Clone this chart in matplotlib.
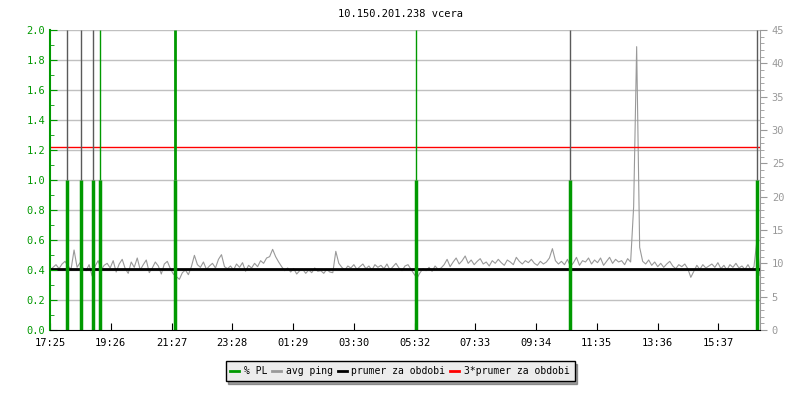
import numpy as np
import matplotlib.pyplot as plt
from matplotlib.ticker import MultipleLocator

plt.rcParams['font.family'] = ['DejaVu Sans Mono']

title = '10.150.201.238 vcera'

# avg ping [ms], one sample every 6 minutes from 17:25
ping = [
    9.0, 9.4, 9.8, 9.2, 9.9, 10.3, 9.6, 9.1, 12.0, 9.4,
    10.1, 9.3, 8.9, 9.8, 8.1, 9.6, 10.4, 9.0, 9.7, 10.0,
    9.3, 10.4, 8.7, 9.9, 10.6, 9.2, 8.5, 10.2, 9.4, 10.8,
    9.0, 9.8, 10.5, 8.6, 9.3, 10.2, 9.6, 8.4, 9.9, 10.3,
    9.2, 8.4, 8.0, 7.6, 8.6, 9.0, 8.3, 9.5, 11.2, 9.8,
    9.4, 10.2, 9.1, 9.6, 10.0, 9.3, 10.6, 11.3, 9.5, 9.2,
    9.6, 9.0, 9.9, 9.4, 10.1, 8.8, 9.7, 9.3, 10.0, 9.5,
    10.4, 10.0, 10.8, 11.0, 12.1, 11.0, 10.2, 9.5, 8.9, 9.3,
    8.7, 9.2, 8.4, 8.9, 9.1, 8.5, 9.0, 8.6, 9.3, 8.8,
    8.9, 8.5, 9.1, 8.7, 8.6, 11.8, 10.0, 9.4, 9.0, 9.6,
    9.3, 9.8, 9.1, 9.5, 9.9, 9.2, 9.6, 9.0, 9.8, 9.4,
    9.7, 9.2, 9.9, 9.0, 9.5, 10.0, 9.3, 8.9, 9.6, 9.8,
    9.1, 8.4, 7.8, 8.6, 9.2, 8.9, 9.4, 8.8, 9.6, 9.1,
    9.3, 9.8, 10.6, 9.5, 10.2, 10.8, 9.9, 10.4, 11.1, 10.0,
    10.5, 9.8, 10.3, 10.7, 9.9, 10.2, 9.6, 10.4, 10.0, 10.6,
    10.1, 9.7, 10.5, 10.2, 9.8, 10.9, 10.3, 9.9, 10.4, 10.1,
    10.6, 10.0, 9.7, 10.3, 9.9, 10.2, 10.8, 12.2, 10.4, 9.9,
    10.3, 9.8, 10.6, 9.5, 10.1, 10.9, 9.7, 10.4, 10.2, 10.8,
    9.9, 10.5, 10.1, 10.8, 9.7, 10.3, 10.9, 10.0, 10.6, 10.2,
    10.4, 9.8, 10.7, 10.2, 18.5, 42.5, 12.4, 10.3, 9.9, 10.5,
    9.7, 10.2, 9.5, 10.0, 9.4, 9.9, 10.3, 9.6, 9.2, 9.8,
    9.5, 9.9, 9.2, 7.9, 8.8, 9.7, 9.1, 9.8, 9.3, 9.6,
    9.9, 9.4, 10.1, 9.2, 9.7, 9.0, 9.8, 9.4, 10.0, 9.3,
    9.6, 9.1, 9.8, 9.0, 9.5, 13.5, 8.2,
]
step_min = 6

# packet loss events: minutes after 17:25, % PL
pl_time = [34, 62, 86, 100, 250, 729, 1038, 1411]
pl_value = [1.0, 1.0, 1.0, 1.0, 1.0, 1.0, 1.0, 1.0]
pl_top_color = ['#5a5a5a', '#5a5a5a', '#5a5a5a', '#009900', '#009900', '#009900', '#5a5a5a', '#5a5a5a']
pl_top_width = [1, 1, 1, 1, 2, 1, 1, 1]

prumer = 9.15

tick_labels = ['17:25', '19:26', '21:27', '23:28', '01:29', '03:30',
               '05:32', '07:33', '09:34', '11:35', '13:36', '15:37']
tick_step = 121.17

t = np.arange(len(ping)) * step_min

fig = plt.figure(figsize=(8, 4), dpi=100)
ax = fig.add_axes([0.0625, 0.175, 0.8875, 0.75])
ax2 = ax.twinx()

# grid lines drawn on the ping axis so they stay under the data
for g in np.arange(0.2, 2.01, 0.2):
    ax2.axhline(g * 22.5, color='#c0c0c0', lw=1, zorder=0)

ax2.plot(t, ping, color='#999999', lw=0.8, zorder=2)
ax2.axhline(prumer, color='black', lw=2, zorder=3)
ax2.axhline(3 * prumer, color='red', lw=1, zorder=3)

ax.set_zorder(ax2.get_zorder() + 1)
ax.patch.set_visible(False)
for tt, v, c, w in zip(pl_time, pl_value, pl_top_color, pl_top_width):
    ax.vlines(tt, 0, v, color='#009900', lw=2.5)
    ax.vlines(tt, v, 2.0, color=c, lw=w)

xmax = t[-1]
ax.set_xlim(0, xmax)
ax.set_ylim(0, 2)
ax2.set_ylim(0, 45)

ax.set_xticks([i * tick_step for i in range(len(tick_labels))])
ax.set_xticklabels(tick_labels, fontsize=7.5)
ax.tick_params(axis='x', direction='in', length=5, pad=6, color='black')

ax.yaxis.set_major_locator(MultipleLocator(0.2))
ax.yaxis.set_minor_locator(MultipleLocator(0.1))
ax.yaxis.set_major_formatter(plt.FuncFormatter(lambda v, p: f'{v:.1f}'))
ax.tick_params(axis='y', which='major', direction='in', length=5, colors='#009900', labelsize=7.5)
ax.tick_params(axis='y', which='minor', direction='in', length=3, colors='#009900')

ax2.yaxis.set_major_locator(MultipleLocator(5))
ax2.yaxis.set_minor_locator(MultipleLocator(1))
ax2.tick_params(axis='y', which='major', direction='out', length=5, colors='#999999', labelsize=7.5)
ax2.tick_params(axis='y', which='minor', direction='out', length=3, colors='#999999')

for a in (ax, ax2):
    a.spines['top'].set_visible(False)
ax.spines['left'].set_color('#009900')
ax.spines['left'].set_linewidth(1.5)
ax2.spines['left'].set_visible(False)
ax.spines['right'].set_visible(False)
ax2.spines['right'].set_color('#999999')
ax.spines['bottom'].set_color('black')
ax2.spines['bottom'].set_visible(False)

fig.text(0.5, 0.965, title, ha='center', va='center', fontsize=7.5)

handles = [
    plt.Line2D([], [], color='#009900', lw=2),
    plt.Line2D([], [], color='#999999', lw=2),
    plt.Line2D([], [], color='black', lw=2),
    plt.Line2D([], [], color='red', lw=2),
]
labels = ['% PL', 'avg ping', 'prumer za obdobi', '3*prumer za obdobi']
leg = fig.legend(handles, labels, loc='center', bbox_to_anchor=(0.5, 0.072), ncol=4,
                 fontsize=7.0, handlelength=0.9, handletextpad=0.5, columnspacing=0.5,
                 frameon=True, fancybox=False, shadow=True, borderpad=0.5)
leg.get_frame().set_facecolor('#ececec')
leg.get_frame().set_edgecolor('black')
leg.get_frame().set_alpha(1)

fig.savefig('out.png', dpi=100)
